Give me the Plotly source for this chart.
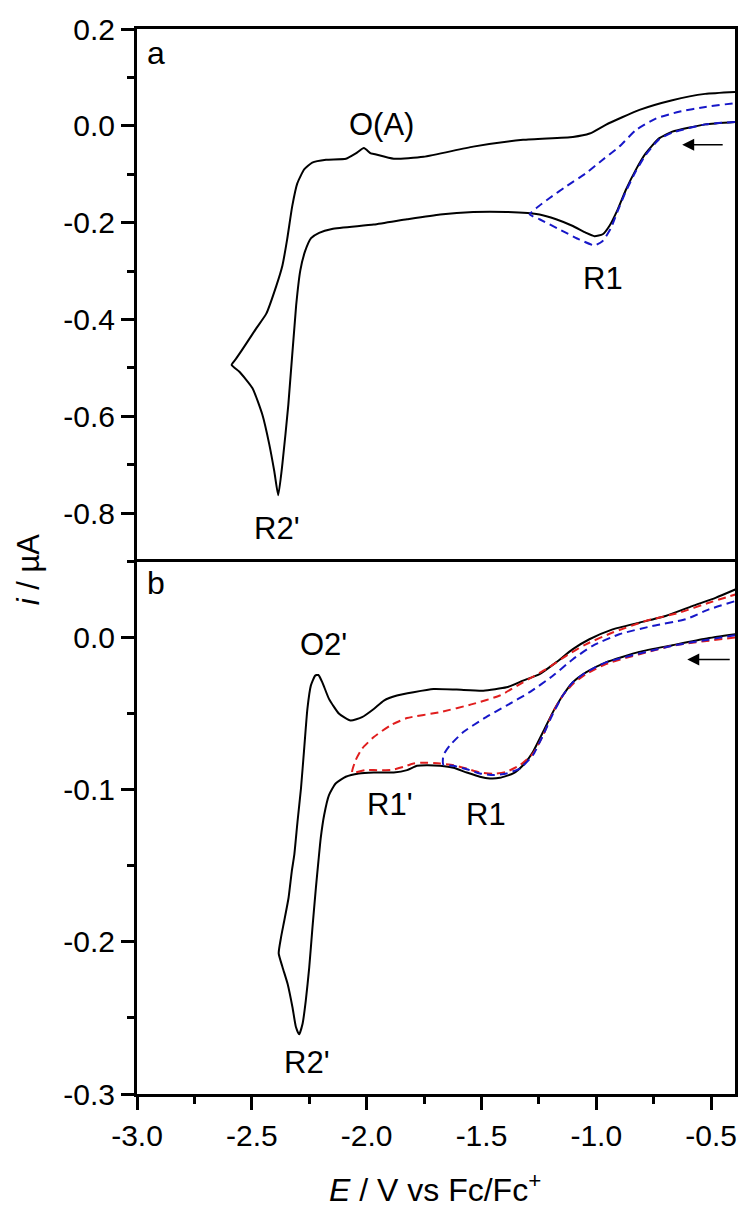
import plotly.graph_objects as go

# ---------------- Panel a data ----------------
a_black_E = [-0.395, -0.525, -0.669, -0.727, -0.785, -0.828, -0.871, -0.907, -0.943, -0.972, -1.008, -1.045,
             -1.102, -1.175, -1.247, -1.391, -1.536, -1.680, -1.824, -1.969, -2.151, -2.207, -2.242,
             -2.268, -2.289, -2.307, -2.341, -2.367, -2.385,
             -2.402, -2.424, -2.454, -2.497, -2.554, -2.588,
             -2.567, -2.523, -2.480, -2.437, -2.393, -2.367, -2.346, -2.324, -2.302, -2.272, -2.237,
             -2.177, -2.090, -2.047, -2.012, -1.982, -1.969, -1.882, -1.752, -1.536, -1.319, -1.102,
             -1.029, -0.959, -0.812, -0.669, -0.526, -0.396]
a_black_i = [0.008, 0.003, -0.012, -0.026, -0.057, -0.091, -0.132, -0.173, -0.207, -0.224, -0.228, -0.221,
             -0.207, -0.193, -0.183, -0.178, -0.178, -0.183, -0.193, -0.204, -0.213, -0.221, -0.232,
             -0.259, -0.299, -0.371, -0.576, -0.699, -0.763,
             -0.714, -0.658, -0.597, -0.542, -0.508, -0.494,
             -0.480, -0.449, -0.418, -0.388, -0.330, -0.289, -0.234, -0.166, -0.119, -0.090, -0.076,
             -0.070, -0.068, -0.057, -0.046, -0.057, -0.058, -0.068, -0.064, -0.043, -0.029, -0.023,
             -0.016, 0.002, 0.033, 0.053, 0.066, 0.070]

a_blue_E = [-0.395, -0.525, -0.669, -0.727, -0.785, -0.828, -0.871, -0.907, -0.936, -0.972, -1.008, -1.073,
            -1.160, -1.247, -1.290,
            -1.261, -1.203, -1.131, -1.045, -0.972, -0.900, -0.828, -0.741, -0.640, -0.525, -0.395]
a_blue_i = [0.008, 0.003, -0.014, -0.028, -0.060, -0.094, -0.135, -0.176, -0.211, -0.238, -0.247, -0.235,
            -0.214, -0.193, -0.183,
            -0.170, -0.149, -0.125, -0.098, -0.070, -0.043, -0.009, 0.015, 0.029, 0.039, 0.047]

# ---------------- Panel b data ----------------
b_black_E = [-0.395, -0.525, -0.669, -0.813, -0.958, -1.045, -1.102, -1.146, -1.189, -1.232, -1.276, -1.319,
             -1.362, -1.420, -1.463, -1.507, -1.564, -1.622, -1.680, -1.738, -1.781, -1.824, -1.882,
             -1.969, -2.034, -2.091, -2.135, -2.164, -2.185, -2.200, -2.210, -2.221, -2.236, -2.250,
             -2.265, -2.279, -2.294,
             -2.308, -2.323, -2.344, -2.366, -2.383,
             -2.373, -2.359, -2.340, -2.326, -2.315, -2.301, -2.286, -2.272, -2.258, -2.243, -2.224,
             -2.210, -2.193, -2.164, -2.120, -2.070, -2.020, -1.969, -1.925, -1.868, -1.796, -1.709,
             -1.608, -1.492, -1.391, -1.319, -1.247, -1.175, -1.102, -1.030, -0.929, -0.813, -0.698,
             -0.582, -0.481, -0.395]
b_black_i = [0.0022, -0.0007, -0.0050, -0.0094, -0.0163, -0.0229, -0.0294, -0.0381, -0.0490, -0.0621,
             -0.0752, -0.0839, -0.0893, -0.0922, -0.0926, -0.0915, -0.0887, -0.0856, -0.0843, -0.0839,
             -0.0843, -0.0871, -0.0887, -0.0887, -0.0893, -0.0915, -0.0959, -0.1035, -0.1166, -0.1318,
             -0.147, -0.1645, -0.1907, -0.2168, -0.2386, -0.2538, -0.2608,
             -0.256, -0.243, -0.2277, -0.2168, -0.2076,
             -0.1972, -0.1863, -0.171, -0.1536, -0.1427, -0.1209, -0.0992, -0.073, -0.0469, -0.0316,
             -0.025, -0.0246, -0.0294, -0.0403, -0.0501, -0.0545, -0.0523, -0.0469, -0.0414, -0.0381,
             -0.0359, -0.0338, -0.0342, -0.0349, -0.0327, -0.0283, -0.0240, -0.0163, -0.0076, -0.0011,
             0.0054, 0.0098, 0.0142, 0.0207, 0.0261, 0.0316]

b_red_E = [-0.395, -0.669, -0.958, -1.045, -1.102, -1.146, -1.189, -1.232, -1.276, -1.333, -1.391, -1.449,
           -1.507, -1.564, -1.622, -1.680, -1.752, -1.796, -1.839, -1.896, -1.969, -2.005, -2.063,
           -2.048, -2.020, -1.969, -1.896, -1.824, -1.680, -1.536, -1.420, -1.319, -1.218, -1.131,
           -1.045, -0.929, -0.785, -0.640, -0.510, -0.395]
b_red_i = [0.0, -0.0054, -0.0174, -0.0240, -0.0305, -0.0381, -0.0490, -0.0643, -0.0763, -0.0839, -0.0882,
           -0.0895, -0.0887, -0.0861, -0.0839, -0.0828, -0.0822, -0.0828, -0.0850, -0.0871, -0.0871,
           -0.0871, -0.0887,
           -0.0806, -0.073, -0.0654, -0.0577, -0.0529, -0.0490, -0.0436, -0.0381, -0.0294, -0.0207,
           -0.0120, -0.0044, 0.0033, 0.0109, 0.0163, 0.0229, 0.0283]

b_blue_E = [-0.395, -0.669, -0.958, -1.045, -1.102, -1.146, -1.189, -1.232, -1.276, -1.333, -1.391, -1.449,
            -1.507, -1.564, -1.622, -1.666,
            -1.666, -1.637, -1.579, -1.492, -1.391, -1.290, -1.189, -1.102, -1.016, -0.900, -0.756,
            -0.611, -0.510, -0.395]
b_blue_i = [0.0015, -0.0054, -0.0163, -0.0229, -0.0294, -0.0381, -0.0501, -0.0643, -0.0773, -0.0861,
            -0.0893, -0.0904, -0.0893, -0.0865, -0.0843, -0.0835,
            -0.0773, -0.0708, -0.0621, -0.0534, -0.0447, -0.0359, -0.0251, -0.0142, -0.0054, 0.0022,
            0.0076, 0.0120, 0.0185, 0.0240]

# Tick labels
x_ticks = [-3.0, -2.5, -2.0, -1.5, -1.0, -0.5]
x_ticklabels = ["-3.0", "-2.5", "-2.0", "-1.5", "-1.0", "-0.5"]
a_yticks = [0.2, 0.0, -0.2, -0.4, -0.6, -0.8]
a_yticklabels = ["0.2", "0.0", "-0.2", "-0.4", "-0.6", "-0.8"]
b_yticks = [0.0, -0.1, -0.2, -0.3]
b_yticklabels = ["0.0", "-0.1", "-0.2", "-0.3"]

# Peak labels
a_labels = [("O(A)", -1.934, 0.002), ("R1", -0.972, -0.316), ("R2'", -2.389, -0.831)]
b_labels = [("O2'", -2.190, -0.0046), ("R1'", -1.899, -0.110), ("R1", -1.479, -0.116), ("R2'", -2.259, -0.279)]

FONT = "Arial, 'Liberation Sans', sans-serif"
BLACK = "#000000"
BLUE = "#1717c8"
RED = "#e01e1e"

fig = go.Figure()
sm = dict(shape="spline", smoothing=0.5)
fig.add_trace(go.Scatter(x=a_black_E, y=a_black_i, xaxis="x", yaxis="y", mode="lines",
                         line=dict(color=BLACK, width=2, **sm)))
fig.add_trace(go.Scatter(x=a_blue_E, y=a_blue_i, xaxis="x", yaxis="y", mode="lines",
                         line=dict(color=BLUE, width=2, dash="8px,5px", **sm)))
fig.add_trace(go.Scatter(x=b_black_E, y=b_black_i, xaxis="x2", yaxis="y2", mode="lines",
                         line=dict(color=BLACK, width=2, **sm)))
fig.add_trace(go.Scatter(x=b_red_E, y=b_red_i, xaxis="x2", yaxis="y2", mode="lines",
                         line=dict(color=RED, width=2, dash="8px,5px", **sm)))
fig.add_trace(go.Scatter(x=b_blue_E, y=b_blue_i, xaxis="x2", yaxis="y2", mode="lines",
                         line=dict(color=BLUE, width=2, dash="8px,5px", **sm)))

axis_common = dict(showline=True, linecolor=BLACK, linewidth=3, mirror=True, showgrid=False,
                   zeroline=False, ticks="outside", tickwidth=3, ticklen=13, tickcolor=BLACK,
                   tickfont=dict(family=FONT, size=30, color=BLACK))
xr = [-3.0, -0.396]

annotations = []
for t, x, y in a_labels:
    annotations.append(dict(text=t, x=x, y=y, xref="x", yref="y", showarrow=False,
                            xanchor="center", yanchor="middle",
                            font=dict(family=FONT, size=31, color=BLACK)))
for t, x, y in b_labels:
    annotations.append(dict(text=t, x=x, y=y, xref="x2", yref="y2", showarrow=False,
                            xanchor="center", yanchor="middle",
                            font=dict(family=FONT, size=31, color=BLACK)))
# arrows indicating scan direction
annotations.append(dict(text="", x=-0.626, y=-0.039, xref="x", yref="y", ax=42, ay=0,
                        showarrow=True, arrowhead=2, arrowsize=1.6, arrowwidth=1.5, arrowcolor=BLACK))
annotations.append(dict(text="", x=-0.604, y=-0.0144, xref="x2", yref="y2", ax=44, ay=0,
                        showarrow=True, arrowhead=2, arrowsize=1.6, arrowwidth=1.5, arrowcolor=BLACK))
# panel letters
annotations.append(dict(text="a", x=0.0316, y=0.955, xref="x domain", yref="y domain", showarrow=False,
                        xanchor="center", yanchor="middle",
                        font=dict(family=FONT, size=32, color=BLACK)))
annotations.append(dict(text="b", x=0.0316, y=0.959, xref="x2 domain", yref="y2 domain", showarrow=False,
                        xanchor="center", yanchor="middle",
                        font=dict(family=FONT, size=32, color=BLACK)))
# axis titles
annotations.append(dict(text="<i>i</i> / µA", x=-0.18, y=0.493, xref="paper", yref="paper",
                        showarrow=False, textangle=-90, xanchor="center", yanchor="middle",
                        font=dict(family=FONT, size=31, color=BLACK)))
annotations.append(dict(text="<i>E</i> / V vs Fc/Fc<sup>+</sup>", x=0.499, y=-0.0886, xref="paper",
                        yref="paper", showarrow=False, xanchor="center", yanchor="middle",
                        font=dict(family=FONT, size=32, color=BLACK)))

fig.update_layout(
    width=750, height=1218,
    margin=dict(l=137, r=12, t=22, b=124),
    paper_bgcolor="white", plot_bgcolor="white",
    showlegend=False,
    xaxis=dict(domain=[0, 1], anchor="y", range=xr, showticklabels=False, side="top",
               **{**axis_common, "ticks": "", "mirror": False}),
    yaxis=dict(domain=[0.5, 1], anchor="x", range=[-0.9, 0.2], tickmode="array",
               tickvals=a_yticks, ticktext=a_yticklabels,
               minor=dict(dtick=0.1, tick0=0, ticks="outside", ticklen=7, tickwidth=3, tickcolor=BLACK),
               **axis_common),
    xaxis2=dict(domain=[0, 1], anchor="y2", range=xr, tickmode="array",
                tickvals=x_ticks, ticktext=x_ticklabels,
                minor=dict(dtick=0.25, tick0=0, ticks="outside", ticklen=7, tickwidth=3, tickcolor=BLACK),
                **axis_common),
    yaxis2=dict(domain=[0, 0.5], anchor="x2", range=[-0.3, 0.05], tickmode="array",
                tickvals=b_yticks, ticktext=b_yticklabels,
                minor=dict(dtick=0.05, tick0=0, ticks="outside", ticklen=7, tickwidth=3, tickcolor=BLACK),
                **axis_common),
    annotations=annotations,
)

fig.write_html("out.html", config={"displayModeBar": False},
               post_script="document.body.style.margin='0';document.body.style.overflow='hidden';")
